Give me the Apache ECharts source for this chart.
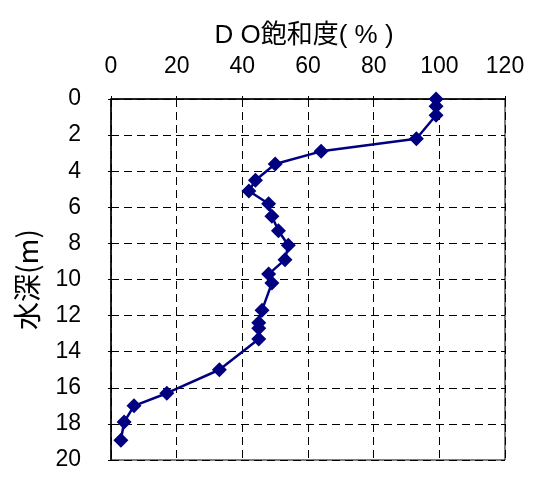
<!DOCTYPE html>
<html><head><meta charset="utf-8">
<script src="https://cdn.jsdelivr.net/npm/echarts@6/dist/echarts.min.js"></script>
<style>html,body{margin:0;padding:0;background:#fff}#c{width:535px;height:477px}</style>
</head><body><div id="c"></div>
<script>
const depth = [0, 0.4, 0.9, 2.2, 2.9, 3.6, 4.5, 5.1, 5.8, 6.5, 7.3, 8.1, 8.9, 9.7, 10.2, 11.7, 12.4, 12.7, 13.3, 15.0, 16.3, 17.0, 17.9, 18.9];
const doSat = [99, 99, 99, 93, 64, 50, 44, 42, 48, 49, 51, 54, 53, 48, 49, 46, 45, 45, 45, 33, 17, 7, 4, 3];
const xTitle = 'D O飽和度( % )';
const yTitle = '水深(m)';

const chart = echarts.init(document.getElementById('c'), null, {renderer: 'canvas'});
const labelFont = {fontFamily: 'Liberation Sans', fontSize: 23, color: '#000'};
const gridLine = {show: true, lineStyle: {color: '#000', type: [8, 5], width: 1}};
chart.setOption({
  animation: false,
  backgroundColor: '#fff',
  title: {
    text: xTitle, left: 299, top: 18, textAlign: 'center',
    textStyle: {fontFamily: 'Liberation Sans, Noto Sans CJK JP', fontSize: 26, fontWeight: 'normal', color: '#000'}
  },
  grid: {left: 111, top: 99, right: 30, bottom: 17, show: true, borderColor: '#000', borderWidth: 1},
  xAxis: {
    type: 'value', position: 'top', min: 0, max: 120, interval: 20,
    axisLine: {show: true, lineStyle: {color: '#000', width: 1.5}},
    axisTick: {show: true, inside: false, length: 3, lineStyle: {color: '#000'}},
    axisLabel: Object.assign({margin: 21}, labelFont),
    splitLine: gridLine
  },
  yAxis: {
    type: 'value', inverse: true, min: 0, max: 20, interval: 2,
    name: yTitle, nameLocation: 'middle', nameGap: 70, nameRotate: 90,
    nameTextStyle: {fontFamily: 'Noto Sans CJK JP', fontSize: 28, color: '#000'},
    axisLine: {show: true, lineStyle: {color: '#000', width: 1.5}},
    axisTick: {show: true, inside: false, length: 3, lineStyle: {color: '#000'}},
    axisLabel: Object.assign({margin: 30}, labelFont),
    splitLine: gridLine
  },
  series: [{
    type: 'line',
    data: depth.map((d, i) => [doSat[i], d]),
    symbol: 'diamond', symbolSize: 15,
    lineStyle: {color: '#000080', width: 2.5},
    itemStyle: {color: '#000080'}
  }]
});
</script></body></html>
